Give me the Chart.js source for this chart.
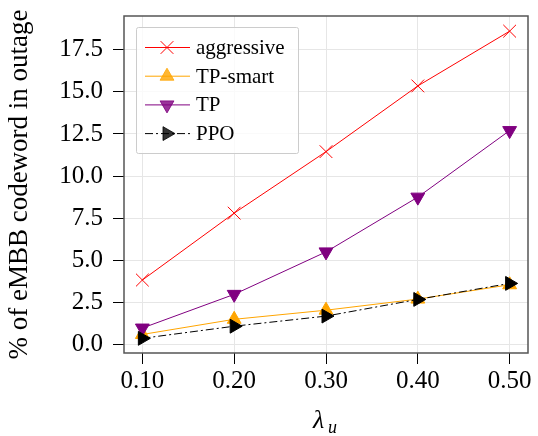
<!DOCTYPE html>
<html>
<head>
<meta charset="utf-8">
<script src="https://cdn.jsdelivr.net/npm/chart.js@4"></script>
<style>
  body { margin: 0; background: #fff; }
  canvas { display: block; }
</style>
</head>
<body>
<canvas id="chart" width="538" height="436"></canvas>
<script>
const lambdas = [0.10, 0.20, 0.30, 0.40, 0.50];
const aggressive = [3.83, 7.8, 11.45, 15.35, 18.6];
const tpSmart = [0.6, 1.5, 2.04, 2.7, 3.55];
const tp = [0.98, 2.98, 5.5, 8.75, 12.7];
const ppo = [0.37, 1.09, 1.69, 2.68, 3.63];

const xTicks = [0.10, 0.20, 0.30, 0.40, 0.50];
const yTicks = [0.0, 2.5, 5.0, 7.5, 10.0, 12.5, 15.0, 17.5];

const serif = "'Liberation Serif', 'Times New Roman', serif";

function pts(values) {
  return lambdas.map((x, i) => ({ x: x, y: values[i] }));
}

function series(label, values, color, style, rotation, radius, order, dash) {
  return {
    label: label,
    data: pts(values),
    borderColor: color,
    backgroundColor: color,
    borderWidth: 1,
    borderDash: dash || [],
    pointStyle: style,
    rotation: rotation,
    pointRadius: radius,
    pointHoverRadius: radius,
    pointBorderWidth: 1,
    pointBackgroundColor: color,
    pointBorderColor: color,
    tension: 0,
    fill: false,
    order: order
  };
}

const datasets = [
  series("aggressive", aggressive, "#ff0000", "crossRot", 0, 9, 3),
  series("TP-smart", tpSmart, "#ffa500", "triangle", 0, 8, 2),
  series("TP", tp, "#800080", "triangle", 180, 8, 1),
  series("PPO", ppo, "#000000", "triangle", 90, 8, 0, [8, 3, 2, 3])
];

// draw one marker by hand (legend)
function marker(ctx, ds, x, y) {
  const r = ds.pointRadius;
  ctx.save();
  ctx.translate(x, y);
  ctx.rotate(ds.rotation * Math.PI / 180);
  ctx.strokeStyle = ds.borderColor;
  ctx.fillStyle = ds.borderColor;
  ctx.lineWidth = 1;
  ctx.setLineDash([]);
  ctx.beginPath();
  if (ds.pointStyle === "crossRot") {
    const d = r * Math.SQRT1_2;
    ctx.moveTo(-d, -d); ctx.lineTo(d, d);
    ctx.moveTo(-d, d); ctx.lineTo(d, -d);
    ctx.stroke();
  } else {
    for (let k = 0; k < 3; k++) {
      const a = k * 2 * Math.PI / 3;
      const px = Math.sin(a) * r, py = -Math.cos(a) * r;
      if (k === 0) ctx.moveTo(px, py); else ctx.lineTo(px, py);
    }
    ctx.closePath();
    ctx.globalAlpha = 0.8;
    ctx.fill();
    ctx.stroke();
  }
  ctx.restore();
}

const framePlugin = {
  id: "frame",
  beforeDatasetsDraw(chart) {
    const a = chart.chartArea, ctx = chart.ctx;
    ctx.save();
    ctx.strokeStyle = "#555555";
    ctx.lineWidth = 1.5;
    ctx.strokeRect(a.left, a.top, a.right - a.left, a.bottom - a.top);
    ctx.restore();
  },
  afterDraw(chart) {
    const ctx = chart.ctx;
    // legend
    ctx.save();
    ctx.fillStyle = "rgba(255,255,255,0.8)";
    ctx.strokeStyle = "#cccccc";
    ctx.lineWidth = 1;
    ctx.beginPath();
    ctx.roundRect(136.5, 27.5, 162, 126, 2);
    ctx.fill();
    ctx.stroke();
    ctx.font = "21px " + serif;
    ctx.textBaseline = "middle";
    ctx.textAlign = "left";
    chart.data.datasets.forEach((ds, i) => {
      const y = 47.5 + i * 28.7;
      ctx.save();
      ctx.strokeStyle = ds.borderColor;
      ctx.lineWidth = 1;
      ctx.setLineDash(ds.borderDash);
      ctx.beginPath();
      ctx.moveTo(145, y);
      ctx.lineTo(190, y);
      ctx.stroke();
      ctx.restore();
      marker(ctx, ds, 167, y);
      ctx.fillStyle = "#000";
      ctx.fillText(ds.label, 196, y + 1);
    });
    // x axis title: lambda with subscript u
    ctx.fillStyle = "#000";
    ctx.textBaseline = "alphabetic";
    ctx.font = "italic 26px " + serif;
    ctx.fillText("λ", 313, 428);
    ctx.font = "italic 18px " + serif;
    ctx.fillText("u", 328, 433);
    ctx.restore();
  }
};

function noPad(s) {
  s.paddingLeft = 0;
  s.paddingRight = 0;
  s.paddingTop = 0;
  s.paddingBottom = 0;
}

new Chart(document.getElementById("chart"), {
  type: "line",
  data: { datasets: datasets },
  options: {
    responsive: false,
    animation: false,
    layout: { padding: { left: 0, right: 5, top: 16, bottom: 0 } },
    plugins: {
      legend: { display: false },
      tooltip: { enabled: false }
    },
    scales: {
      x: {
        type: "linear",
        min: 0.08,
        max: 0.52,
        afterBuildTicks: s => { s.ticks = xTicks.map(v => ({ value: v })); },
        afterFit: s => { s.height = 83; noPad(s); },
        grid: { color: "#e6e6e6", tickColor: "#000", tickLength: 11, lineWidth: 1 },
        border: { display: false },
        ticks: {
          color: "#000",
          padding: 2,
          font: { family: serif, size: 25 },
          callback: v => v.toFixed(2)
        }
      },
      y: {
        min: -0.5,
        max: 19.5,
        afterBuildTicks: s => { s.ticks = yTicks.map(v => ({ value: v })); },
        afterFit: s => { s.width = 124; noPad(s); },
        grid: { color: "#e6e6e6", tickColor: "#000", tickLength: 11, lineWidth: 1 },
        border: { display: false },
        ticks: {
          color: "#000",
          padding: 10,
          font: { family: serif, size: 25 },
          callback: v => v.toFixed(1)
        },
        title: {
          display: true,
          text: "% of eMBB codeword in outage",
          color: "#000",
          font: { family: serif, size: 27 },
          padding: { top: 4, bottom: 4 }
        }
      }
    }
  },
  plugins: [framePlugin]
});
</script>
</body>
</html>
